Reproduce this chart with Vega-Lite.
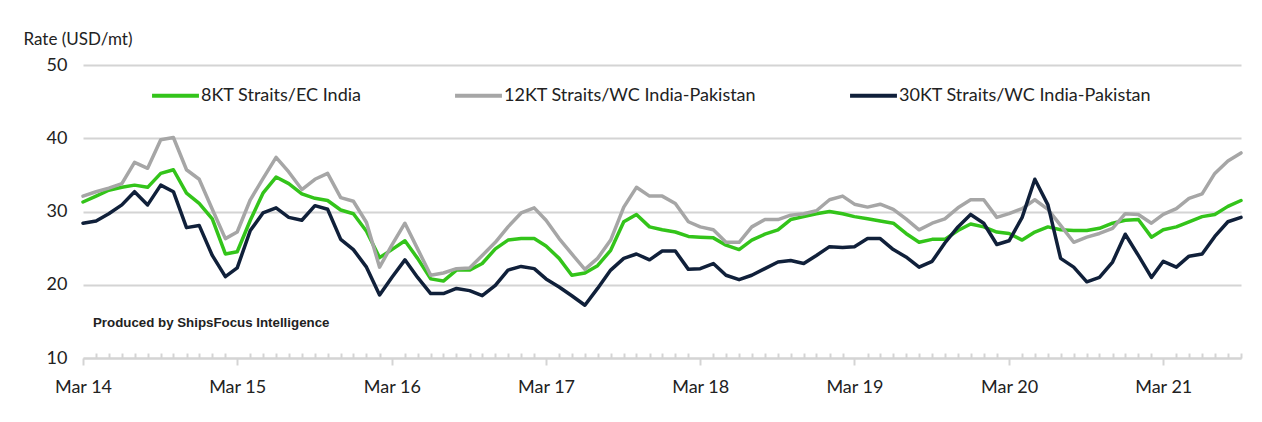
{
  "$schema": "https://vega.github.io/schema/vega-lite/v6.json",
  "autosize": {"type": "none"},
  "width": 1158,
  "height": 293,
  "padding": {"left": 83, "top": 65, "right": 21, "bottom": 64},
  "background": "white",
  "title": {
    "text": "Produced by ShipsFocus Intelligence",
    "orient": "top",
    "anchor": "start",
    "frame": "group",
    "offset": 0,
    "baseline": "middle",
    "dx": 10,
    "dy": 306,
    "font": "Liberation Sans",
    "fontSize": 13.3,
    "fontWeight": "bold",
    "color": "#222222"
  },
  "config": {
    "view": {"stroke": null},
    "font": "Lato"
  },
  "data": {
    "values": [
      {"date": "2014-03-01", "8KT Straits/EC India": 31.3, "12KT Straits/WC India-Pakistan": 32.1, "30KT Straits/WC India-Pakistan": 28.4},
      {"date": "2014-04-01", "8KT Straits/EC India": 32.1, "12KT Straits/WC India-Pakistan": 32.7, "30KT Straits/WC India-Pakistan": 28.7},
      {"date": "2014-05-01", "8KT Straits/EC India": 32.9, "12KT Straits/WC India-Pakistan": 33.2, "30KT Straits/WC India-Pakistan": 29.7},
      {"date": "2014-06-01", "8KT Straits/EC India": 33.3, "12KT Straits/WC India-Pakistan": 33.8, "30KT Straits/WC India-Pakistan": 30.9},
      {"date": "2014-07-01", "8KT Straits/EC India": 33.6, "12KT Straits/WC India-Pakistan": 36.7, "30KT Straits/WC India-Pakistan": 32.7},
      {"date": "2014-08-01", "8KT Straits/EC India": 33.3, "12KT Straits/WC India-Pakistan": 35.9, "30KT Straits/WC India-Pakistan": 30.9},
      {"date": "2014-09-01", "8KT Straits/EC India": 35.2, "12KT Straits/WC India-Pakistan": 39.8, "30KT Straits/WC India-Pakistan": 33.6},
      {"date": "2014-10-01", "8KT Straits/EC India": 35.7, "12KT Straits/WC India-Pakistan": 40.1, "30KT Straits/WC India-Pakistan": 32.7},
      {"date": "2014-11-01", "8KT Straits/EC India": 32.5, "12KT Straits/WC India-Pakistan": 35.7, "30KT Straits/WC India-Pakistan": 27.8},
      {"date": "2014-12-01", "8KT Straits/EC India": 31.1, "12KT Straits/WC India-Pakistan": 34.4, "30KT Straits/WC India-Pakistan": 28.1},
      {"date": "2015-01-01", "8KT Straits/EC India": 29.0, "12KT Straits/WC India-Pakistan": 30.3, "30KT Straits/WC India-Pakistan": 24.0},
      {"date": "2015-02-01", "8KT Straits/EC India": 24.2, "12KT Straits/WC India-Pakistan": 26.3, "30KT Straits/WC India-Pakistan": 21.1},
      {"date": "2015-03-01", "8KT Straits/EC India": 24.5, "12KT Straits/WC India-Pakistan": 27.2, "30KT Straits/WC India-Pakistan": 22.3},
      {"date": "2015-04-01", "8KT Straits/EC India": 28.8, "12KT Straits/WC India-Pakistan": 31.6, "30KT Straits/WC India-Pakistan": 27.4},
      {"date": "2015-05-01", "8KT Straits/EC India": 32.5, "12KT Straits/WC India-Pakistan": 34.5, "30KT Straits/WC India-Pakistan": 29.8},
      {"date": "2015-06-01", "8KT Straits/EC India": 34.7, "12KT Straits/WC India-Pakistan": 37.4, "30KT Straits/WC India-Pakistan": 30.5},
      {"date": "2015-07-01", "8KT Straits/EC India": 33.8, "12KT Straits/WC India-Pakistan": 35.4, "30KT Straits/WC India-Pakistan": 29.2},
      {"date": "2015-08-01", "8KT Straits/EC India": 32.4, "12KT Straits/WC India-Pakistan": 33.0, "30KT Straits/WC India-Pakistan": 28.8},
      {"date": "2015-09-01", "8KT Straits/EC India": 31.8, "12KT Straits/WC India-Pakistan": 34.4, "30KT Straits/WC India-Pakistan": 30.8},
      {"date": "2015-10-01", "8KT Straits/EC India": 31.5, "12KT Straits/WC India-Pakistan": 35.2, "30KT Straits/WC India-Pakistan": 30.3},
      {"date": "2015-11-01", "8KT Straits/EC India": 30.2, "12KT Straits/WC India-Pakistan": 31.9, "30KT Straits/WC India-Pakistan": 26.2},
      {"date": "2015-12-01", "8KT Straits/EC India": 29.7, "12KT Straits/WC India-Pakistan": 31.4, "30KT Straits/WC India-Pakistan": 24.8},
      {"date": "2016-01-01", "8KT Straits/EC India": 27.3, "12KT Straits/WC India-Pakistan": 28.5, "30KT Straits/WC India-Pakistan": 22.4},
      {"date": "2016-02-01", "8KT Straits/EC India": 23.7, "12KT Straits/WC India-Pakistan": 22.4, "30KT Straits/WC India-Pakistan": 18.6},
      {"date": "2016-03-01", "8KT Straits/EC India": 24.8, "12KT Straits/WC India-Pakistan": 25.4, "30KT Straits/WC India-Pakistan": 21.0},
      {"date": "2016-04-01", "8KT Straits/EC India": 26.0, "12KT Straits/WC India-Pakistan": 28.4, "30KT Straits/WC India-Pakistan": 23.4},
      {"date": "2016-05-01", "8KT Straits/EC India": 23.6, "12KT Straits/WC India-Pakistan": 24.9, "30KT Straits/WC India-Pakistan": 21.0},
      {"date": "2016-06-01", "8KT Straits/EC India": 20.8, "12KT Straits/WC India-Pakistan": 21.3, "30KT Straits/WC India-Pakistan": 18.8},
      {"date": "2016-07-01", "8KT Straits/EC India": 20.5, "12KT Straits/WC India-Pakistan": 21.6, "30KT Straits/WC India-Pakistan": 18.8},
      {"date": "2016-08-01", "8KT Straits/EC India": 22.0, "12KT Straits/WC India-Pakistan": 22.2, "30KT Straits/WC India-Pakistan": 19.5},
      {"date": "2016-09-01", "8KT Straits/EC India": 22.0, "12KT Straits/WC India-Pakistan": 22.3, "30KT Straits/WC India-Pakistan": 19.2},
      {"date": "2016-10-01", "8KT Straits/EC India": 22.9, "12KT Straits/WC India-Pakistan": 24.0, "30KT Straits/WC India-Pakistan": 18.5},
      {"date": "2016-11-01", "8KT Straits/EC India": 24.9, "12KT Straits/WC India-Pakistan": 25.8, "30KT Straits/WC India-Pakistan": 19.9},
      {"date": "2016-12-01", "8KT Straits/EC India": 26.1, "12KT Straits/WC India-Pakistan": 27.9, "30KT Straits/WC India-Pakistan": 22.0},
      {"date": "2017-01-01", "8KT Straits/EC India": 26.3, "12KT Straits/WC India-Pakistan": 29.8, "30KT Straits/WC India-Pakistan": 22.5},
      {"date": "2017-02-01", "8KT Straits/EC India": 26.3, "12KT Straits/WC India-Pakistan": 30.5, "30KT Straits/WC India-Pakistan": 22.2},
      {"date": "2017-03-01", "8KT Straits/EC India": 25.3, "12KT Straits/WC India-Pakistan": 28.8, "30KT Straits/WC India-Pakistan": 20.8},
      {"date": "2017-04-01", "8KT Straits/EC India": 23.6, "12KT Straits/WC India-Pakistan": 26.3, "30KT Straits/WC India-Pakistan": 19.7},
      {"date": "2017-05-01", "8KT Straits/EC India": 21.3, "12KT Straits/WC India-Pakistan": 24.2, "30KT Straits/WC India-Pakistan": 18.5},
      {"date": "2017-06-01", "8KT Straits/EC India": 21.6, "12KT Straits/WC India-Pakistan": 22.1, "30KT Straits/WC India-Pakistan": 17.2},
      {"date": "2017-07-01", "8KT Straits/EC India": 22.6, "12KT Straits/WC India-Pakistan": 23.6, "30KT Straits/WC India-Pakistan": 19.5},
      {"date": "2017-08-01", "8KT Straits/EC India": 24.7, "12KT Straits/WC India-Pakistan": 26.1, "30KT Straits/WC India-Pakistan": 22.0},
      {"date": "2017-09-01", "8KT Straits/EC India": 28.6, "12KT Straits/WC India-Pakistan": 30.6, "30KT Straits/WC India-Pakistan": 23.6},
      {"date": "2017-10-01", "8KT Straits/EC India": 29.6, "12KT Straits/WC India-Pakistan": 33.3, "30KT Straits/WC India-Pakistan": 24.2},
      {"date": "2017-11-01", "8KT Straits/EC India": 27.9, "12KT Straits/WC India-Pakistan": 32.1, "30KT Straits/WC India-Pakistan": 23.4},
      {"date": "2017-12-01", "8KT Straits/EC India": 27.5, "12KT Straits/WC India-Pakistan": 32.1, "30KT Straits/WC India-Pakistan": 24.6},
      {"date": "2018-01-01", "8KT Straits/EC India": 27.2, "12KT Straits/WC India-Pakistan": 31.1, "30KT Straits/WC India-Pakistan": 24.6},
      {"date": "2018-02-01", "8KT Straits/EC India": 26.6, "12KT Straits/WC India-Pakistan": 28.6, "30KT Straits/WC India-Pakistan": 22.1},
      {"date": "2018-03-01", "8KT Straits/EC India": 26.5, "12KT Straits/WC India-Pakistan": 27.9, "30KT Straits/WC India-Pakistan": 22.2},
      {"date": "2018-04-01", "8KT Straits/EC India": 26.4, "12KT Straits/WC India-Pakistan": 27.5, "30KT Straits/WC India-Pakistan": 22.9},
      {"date": "2018-05-01", "8KT Straits/EC India": 25.4, "12KT Straits/WC India-Pakistan": 25.8, "30KT Straits/WC India-Pakistan": 21.3},
      {"date": "2018-06-01", "8KT Straits/EC India": 24.8, "12KT Straits/WC India-Pakistan": 25.8, "30KT Straits/WC India-Pakistan": 20.7},
      {"date": "2018-07-01", "8KT Straits/EC India": 26.1, "12KT Straits/WC India-Pakistan": 27.9, "30KT Straits/WC India-Pakistan": 21.3},
      {"date": "2018-08-01", "8KT Straits/EC India": 26.9, "12KT Straits/WC India-Pakistan": 28.9, "30KT Straits/WC India-Pakistan": 22.2},
      {"date": "2018-09-01", "8KT Straits/EC India": 27.5, "12KT Straits/WC India-Pakistan": 28.9, "30KT Straits/WC India-Pakistan": 23.1},
      {"date": "2018-10-01", "8KT Straits/EC India": 28.9, "12KT Straits/WC India-Pakistan": 29.5, "30KT Straits/WC India-Pakistan": 23.3},
      {"date": "2018-11-01", "8KT Straits/EC India": 29.3, "12KT Straits/WC India-Pakistan": 29.7, "30KT Straits/WC India-Pakistan": 22.9},
      {"date": "2018-12-01", "8KT Straits/EC India": 29.7, "12KT Straits/WC India-Pakistan": 30.1, "30KT Straits/WC India-Pakistan": 24.0},
      {"date": "2019-01-01", "8KT Straits/EC India": 30.0, "12KT Straits/WC India-Pakistan": 31.6, "30KT Straits/WC India-Pakistan": 25.2},
      {"date": "2019-02-01", "8KT Straits/EC India": 29.7, "12KT Straits/WC India-Pakistan": 32.1, "30KT Straits/WC India-Pakistan": 25.1},
      {"date": "2019-03-01", "8KT Straits/EC India": 29.3, "12KT Straits/WC India-Pakistan": 31.0, "30KT Straits/WC India-Pakistan": 25.2},
      {"date": "2019-04-01", "8KT Straits/EC India": 29.0, "12KT Straits/WC India-Pakistan": 30.6, "30KT Straits/WC India-Pakistan": 26.3},
      {"date": "2019-05-01", "8KT Straits/EC India": 28.7, "12KT Straits/WC India-Pakistan": 31.0, "30KT Straits/WC India-Pakistan": 26.3},
      {"date": "2019-06-01", "8KT Straits/EC India": 28.4, "12KT Straits/WC India-Pakistan": 30.3, "30KT Straits/WC India-Pakistan": 24.8},
      {"date": "2019-07-01", "8KT Straits/EC India": 27.0, "12KT Straits/WC India-Pakistan": 29.0, "30KT Straits/WC India-Pakistan": 23.8},
      {"date": "2019-08-01", "8KT Straits/EC India": 25.8, "12KT Straits/WC India-Pakistan": 27.5, "30KT Straits/WC India-Pakistan": 22.4},
      {"date": "2019-09-01", "8KT Straits/EC India": 26.2, "12KT Straits/WC India-Pakistan": 28.4, "30KT Straits/WC India-Pakistan": 23.2},
      {"date": "2019-10-01", "8KT Straits/EC India": 26.2, "12KT Straits/WC India-Pakistan": 29.0, "30KT Straits/WC India-Pakistan": 25.7},
      {"date": "2019-11-01", "8KT Straits/EC India": 27.4, "12KT Straits/WC India-Pakistan": 30.5, "30KT Straits/WC India-Pakistan": 27.9},
      {"date": "2019-12-01", "8KT Straits/EC India": 28.3, "12KT Straits/WC India-Pakistan": 31.6, "30KT Straits/WC India-Pakistan": 29.6},
      {"date": "2020-01-01", "8KT Straits/EC India": 27.9, "12KT Straits/WC India-Pakistan": 31.6, "30KT Straits/WC India-Pakistan": 28.4},
      {"date": "2020-02-01", "8KT Straits/EC India": 27.2, "12KT Straits/WC India-Pakistan": 29.2, "30KT Straits/WC India-Pakistan": 25.5},
      {"date": "2020-03-01", "8KT Straits/EC India": 27.0, "12KT Straits/WC India-Pakistan": 29.7, "30KT Straits/WC India-Pakistan": 26.0},
      {"date": "2020-04-01", "8KT Straits/EC India": 26.1, "12KT Straits/WC India-Pakistan": 30.4, "30KT Straits/WC India-Pakistan": 29.2},
      {"date": "2020-05-01", "8KT Straits/EC India": 27.2, "12KT Straits/WC India-Pakistan": 31.6, "30KT Straits/WC India-Pakistan": 34.4},
      {"date": "2020-06-01", "8KT Straits/EC India": 27.9, "12KT Straits/WC India-Pakistan": 30.3, "30KT Straits/WC India-Pakistan": 30.9},
      {"date": "2020-07-01", "8KT Straits/EC India": 27.5, "12KT Straits/WC India-Pakistan": 28.1, "30KT Straits/WC India-Pakistan": 23.6},
      {"date": "2020-08-01", "8KT Straits/EC India": 27.4, "12KT Straits/WC India-Pakistan": 25.8, "30KT Straits/WC India-Pakistan": 22.4},
      {"date": "2020-09-01", "8KT Straits/EC India": 27.4, "12KT Straits/WC India-Pakistan": 26.5, "30KT Straits/WC India-Pakistan": 20.4},
      {"date": "2020-10-01", "8KT Straits/EC India": 27.7, "12KT Straits/WC India-Pakistan": 27.0, "30KT Straits/WC India-Pakistan": 21.0},
      {"date": "2020-11-01", "8KT Straits/EC India": 28.4, "12KT Straits/WC India-Pakistan": 27.7, "30KT Straits/WC India-Pakistan": 23.1},
      {"date": "2020-12-01", "8KT Straits/EC India": 28.8, "12KT Straits/WC India-Pakistan": 29.7, "30KT Straits/WC India-Pakistan": 26.9},
      {"date": "2021-01-01", "8KT Straits/EC India": 28.9, "12KT Straits/WC India-Pakistan": 29.6, "30KT Straits/WC India-Pakistan": 24.0},
      {"date": "2021-02-01", "8KT Straits/EC India": 26.5, "12KT Straits/WC India-Pakistan": 28.4, "30KT Straits/WC India-Pakistan": 21.0},
      {"date": "2021-03-01", "8KT Straits/EC India": 27.5, "12KT Straits/WC India-Pakistan": 29.6, "30KT Straits/WC India-Pakistan": 23.2},
      {"date": "2021-04-01", "8KT Straits/EC India": 27.9, "12KT Straits/WC India-Pakistan": 30.4, "30KT Straits/WC India-Pakistan": 22.4},
      {"date": "2021-05-01", "8KT Straits/EC India": 28.6, "12KT Straits/WC India-Pakistan": 31.8, "30KT Straits/WC India-Pakistan": 23.9},
      {"date": "2021-06-01", "8KT Straits/EC India": 29.3, "12KT Straits/WC India-Pakistan": 32.4, "30KT Straits/WC India-Pakistan": 24.2},
      {"date": "2021-07-01", "8KT Straits/EC India": 29.6, "12KT Straits/WC India-Pakistan": 35.2, "30KT Straits/WC India-Pakistan": 26.6},
      {"date": "2021-08-01", "8KT Straits/EC India": 30.7, "12KT Straits/WC India-Pakistan": 36.9, "30KT Straits/WC India-Pakistan": 28.6},
      {"date": "2021-09-01", "8KT Straits/EC India": 31.5, "12KT Straits/WC India-Pakistan": 38.0, "30KT Straits/WC India-Pakistan": 29.2}
    ]
  },
  "transform": [
    {"fold": ["8KT Straits/EC India", "12KT Straits/WC India-Pakistan", "30KT Straits/WC India-Pakistan"], "as": ["series", "rate"]}
  ],
  "mark": {"type": "line", "strokeWidth": 3.5, "strokeJoin": "round", "strokeCap": "round"},
  "encoding": {
    "x": {
      "field": "date",
      "type": "temporal",
      "scale": {"type": "utc", "nice": false},
      "axis": {
        "title": null,
        "grid": false,
        "tickCount": {"interval": "month", "step": 1},
        "labelExpr": "utcmonth(datum.value) == 2 ? utcFormat(datum.value, 'Mar %y') : ''",
        "labelOverlap": false,
        "labelFlush": false,
        "labelBound": false,
        "labelFont": "Lato",
        "labelFontSize": 18,
        "labelColor": "#222222",
        "labelPadding": 13,
        "domainColor": "#d4d4d4",
        "domainWidth": 2,
        "tickColor": "#d4d4d4",
        "tickWidth": 2,
        "tickSize": {"condition": {"test": "utcmonth(datum.value) == 2", "value": 7}, "value": -5}
      }
    },
    "y": {
      "field": "rate",
      "type": "quantitative",
      "scale": {"domain": [10, 50], "nice": false, "zero": false},
      "axis": {
        "values": [10, 20, 30, 40, 50],
        "title": "Rate (USD/mt)",
        "titleAngle": 0,
        "titleAlign": "left",
        "titleBaseline": "alphabetic",
        "titleX": -60,
        "titleY": -21,
        "titleFont": "Lato",
        "titleFontSize": 17,
        "titleFontWeight": "normal",
        "titleColor": "#222222",
        "domain": false,
        "ticks": false,
        "labelPadding": 16,
        "labelFont": "Lato",
        "labelFontSize": 18,
        "labelColor": "#222222",
        "gridColor": "#d4d4d4",
        "gridWidth": 2
      }
    },
    "color": {
      "field": "series",
      "type": "nominal",
      "sort": ["8KT Straits/EC India", "12KT Straits/WC India-Pakistan", "30KT Straits/WC India-Pakistan"],
      "scale": {
        "domain": ["8KT Straits/EC India", "12KT Straits/WC India-Pakistan", "30KT Straits/WC India-Pakistan"],
        "range": ["#33c41a", "#a6a6a6", "#10203a"]
      },
      "legend": {
        "title": null,
        "orient": "none",
        "direction": "horizontal",
        "legendX": 67,
        "legendY": 5,
        "symbolType": "stroke",
        "symbolSize": 2200,
        "symbolStrokeWidth": 4,
        "labelOffset": 0,
        "columnPadding": 85,
        "labelFont": "Lato",
        "labelFontSize": 18,
        "labelColor": "#222222",
        "labelLimit": 400
      }
    }
  }
}
